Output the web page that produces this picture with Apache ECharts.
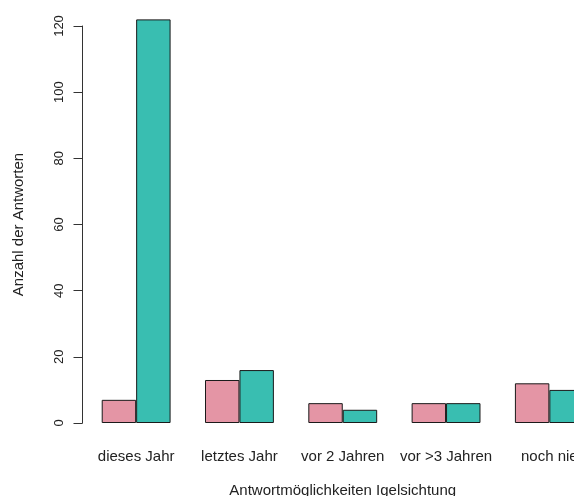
<!DOCTYPE html>
<html>
<head>
<meta charset="utf-8">
<script src="https://cdn.jsdelivr.net/npm/echarts@6/dist/echarts.min.js"></script>
<style>
  html, body { margin: 0; padding: 0; background: #fff; }
  #chart { width: 574px; height: 496px; }
</style>
</head>
<body>
<div id="chart"></div>
<script>
// Antworten zur Frage: Wann haben Sie zuletzt einen Igel gesehen?
const categories = ['dieses Jahr', 'letztes Jahr', 'vor 2 Jahren', 'vor >3 Jahren', 'noch nie'];
const seriesA = [7, 13, 6, 6, 12];
const seriesB = [122, 16, 4, 6, 10];
const yTicks = [0, 20, 40, 60, 80, 100, 120];

const FONT = '"Liberation Sans", Arial, sans-serif';
const TEXT = '#222';

const chart = echarts.init(document.getElementById('chart'), null, { renderer: 'canvas' });

const barStyle = color => ({
  color: color,
  borderColor: '#1a1a1a',
  borderWidth: 1
});

chart.setOption({
  animation: false,
  backgroundColor: '#ffffff',
  textStyle: { fontFamily: FONT },
  // the plot region runs past the right edge, so the last group is cut off
  grid: {
    left: 84.5, top: 26, width: 516.5, height: 397,
    containLabel: false,
    outerBoundsMode: 'none'
  },
  xAxis: {
    type: 'category',
    data: categories,
    axisLine: { show: false },
    axisTick: { show: false },
    axisLabel: { color: TEXT, fontSize: 15, fontFamily: FONT, margin: 26, interval: 0 },
    name: 'Antwortmöglichkeiten Igelsichtung',
    nameLocation: 'middle',
    nameGap: 60,
    nameTextStyle: { color: TEXT, fontSize: 15, fontFamily: FONT }
  },
  yAxis: {
    type: 'value',
    min: yTicks[0],
    max: yTicks[yTicks.length - 1],
    interval: 20,
    offset: 2,
    splitLine: { show: false },
    axisLine: { show: true, lineStyle: { color: '#333', width: 1 } },
    axisTick: { show: true, length: 9, lineStyle: { color: '#333' } },
    axisLabel: { color: TEXT, fontSize: 13, fontFamily: FONT, rotate: 90, margin: 17 },
    name: 'Anzahl der Antworten',
    nameLocation: 'middle',
    nameGap: 56,
    nameTextStyle: { color: TEXT, fontSize: 15, fontFamily: FONT }
  },
  series: [
    {
      type: 'bar',
      data: seriesA,
      barGap: '0%',
      barCategoryGap: '33.33%',
      clip: false,
      itemStyle: barStyle('#E495A5')
    },
    {
      type: 'bar',
      data: seriesB,
      barGap: '0%',
      barCategoryGap: '33.33%',
      clip: false,
      itemStyle: barStyle('#39BEB1')
    }
  ]
});
</script>
</body>
</html>
